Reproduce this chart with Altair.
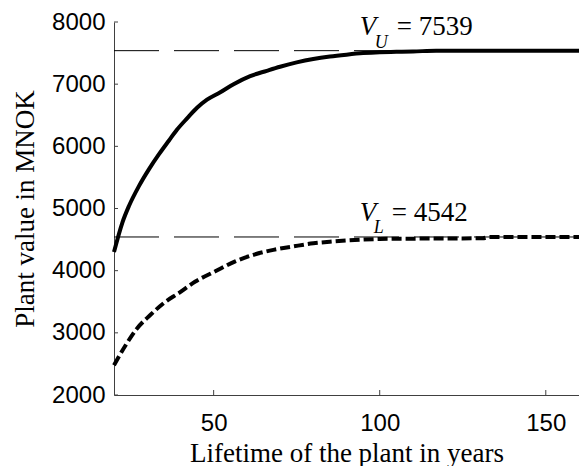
import altair as alt
import pandas as pd

# ---- data ----
years_upper = [20, 22.5, 24.5, 27.5, 30.5, 33.5, 36.5, 39, 42, 45, 48, 52, 56, 61, 66, 70, 75, 80, 85, 90, 95, 100, 105, 110, 117, 120, 130, 140, 150, 160]
value_upper = [4300, 4770, 5040, 5360, 5630, 5870, 6090, 6270, 6450, 6620, 6750, 6870, 7000, 7130, 7215, 7280, 7350, 7405, 7445, 7475, 7500, 7515, 7520, 7525, 7539, 7539, 7539, 7539, 7539, 7539]

years_lower = [20, 23.5, 27, 31, 35, 39.5, 44.5, 50.5, 56.5, 62, 68, 74, 80, 85, 90, 95, 100, 110, 120, 131, 133, 140, 150, 160]
value_lower = [2480, 2800, 3075, 3290, 3480, 3640, 3825, 3990, 4150, 4255, 4335, 4390, 4440, 4465, 4485, 4500, 4510, 4515, 4518, 4522, 4542, 4542, 4542, 4542]

x_domain = [20, 160]
y_domain = [2000, 8000]
x_ticks = [50, 100, 150]
y_ticks = [2000, 3000, 4000, 5000, 6000, 7000, 8000]
V_U = 7539
V_L = 4542
label_x = 94

W, H = 465, 373
AXIS_COLOR = "#404040"

up = pd.DataFrame({"x": years_upper, "y": value_upper})
lo = pd.DataFrame({"x": years_lower, "y": value_lower})
refs = pd.DataFrame({"y": [V_U, V_L], "x0": [x_domain[0]] * 2, "x1": [x_domain[1]] * 2})
xt = pd.DataFrame({"t": x_ticks})
yt = pd.DataFrame({"t": y_ticks})

xs = alt.Scale(domain=x_domain, nice=False, zero=False)
ys = alt.Scale(domain=y_domain, nice=False, zero=False)

x_axis = alt.Axis(
    title="Lifetime of the plant in years", values=x_ticks, ticks=False, grid=False, format="d",
    domainColor=AXIS_COLOR, domainWidth=1,
    labelFont="Liberation Sans", labelFontSize=24, labelColor="black", labelPadding=16,
    titleFont="Liberation Serif", titleFontSize=27, titleFontWeight="normal", titleColor="black",
    titlePadding=5,
)
y_axis = alt.Axis(
    title="Plant value in MNOK", values=y_ticks, ticks=False, grid=False, format="d",
    domainColor=AXIS_COLOR, domainWidth=1,
    labelFont="Liberation Sans", labelFontSize=24, labelColor="black", labelPadding=9,
    titleFont="Liberation Serif", titleFontSize=27, titleFontWeight="normal", titleColor="black",
    titlePadding=12,
)

ref_lines = alt.Chart(refs).mark_rule(color="black", strokeWidth=1, strokeDash=[45, 15]).encode(
    x=alt.X("x0:Q", scale=xs, axis=x_axis),
    x2="x1:Q",
    y=alt.Y("y:Q", scale=ys, axis=y_axis),
)

upper = alt.Chart(up).mark_line(color="black", strokeWidth=4, interpolate="monotone").encode(
    x=alt.X("x:Q", scale=xs), y=alt.Y("y:Q", scale=ys)
)
lower = alt.Chart(lo).mark_line(color="black", strokeWidth=4, strokeDash=[10, 4], interpolate="monotone").encode(
    x=alt.X("x:Q", scale=xs), y=alt.Y("y:Q", scale=ys)
)

x_tick_marks = alt.Chart(xt).mark_rule(color=AXIS_COLOR, strokeWidth=1).encode(
    x=alt.X("t:Q", scale=xs), y=alt.value(H), y2=alt.value(H - 5)
)
y_tick_marks = alt.Chart(yt).mark_rule(color=AXIS_COLOR, strokeWidth=1).encode(
    y=alt.Y("t:Q", scale=ys), x=alt.value(0), x2=alt.value(4)
)


def annotation(value, sub, sub_dx, sub_dy, eq_dx):
    d = pd.DataFrame({"x": [label_x], "y": [value]})
    base = alt.Chart(d).encode(x=alt.X("x:Q", scale=xs), y=alt.Y("y:Q", scale=ys))
    v = base.mark_text(text="V", font="Liberation Serif", fontStyle="italic", fontSize=27,
                       align="left", baseline="alphabetic", dy=-16, color="black")
    s = base.mark_text(text=sub, font="Liberation Serif", fontStyle="italic", fontSize=18,
                       align="left", baseline="alphabetic", dx=sub_dx, dy=-16 + sub_dy, color="black")
    e = base.mark_text(text=f"= {value}", font="Liberation Serif", fontSize=27,
                       align="left", baseline="alphabetic", dx=eq_dx, dy=-16, color="black")
    return v + s + e


ann_u = annotation(V_U, "U", 15, 13, 37)
ann_l = annotation(V_L, "L", 14, 12, 32)

chart = alt.layer(
    ref_lines, x_tick_marks, y_tick_marks, upper, lower, ann_u, ann_l
).properties(
    width=W, height=H,
    autosize=alt.AutoSizeParams(type="none"),
    padding={"left": 106, "top": 14, "right": 0, "bottom": 71},
    background="white",
).configure_view(stroke=None)

chart.save("out.html", embed_options={"renderer": "svg", "actions": False})
